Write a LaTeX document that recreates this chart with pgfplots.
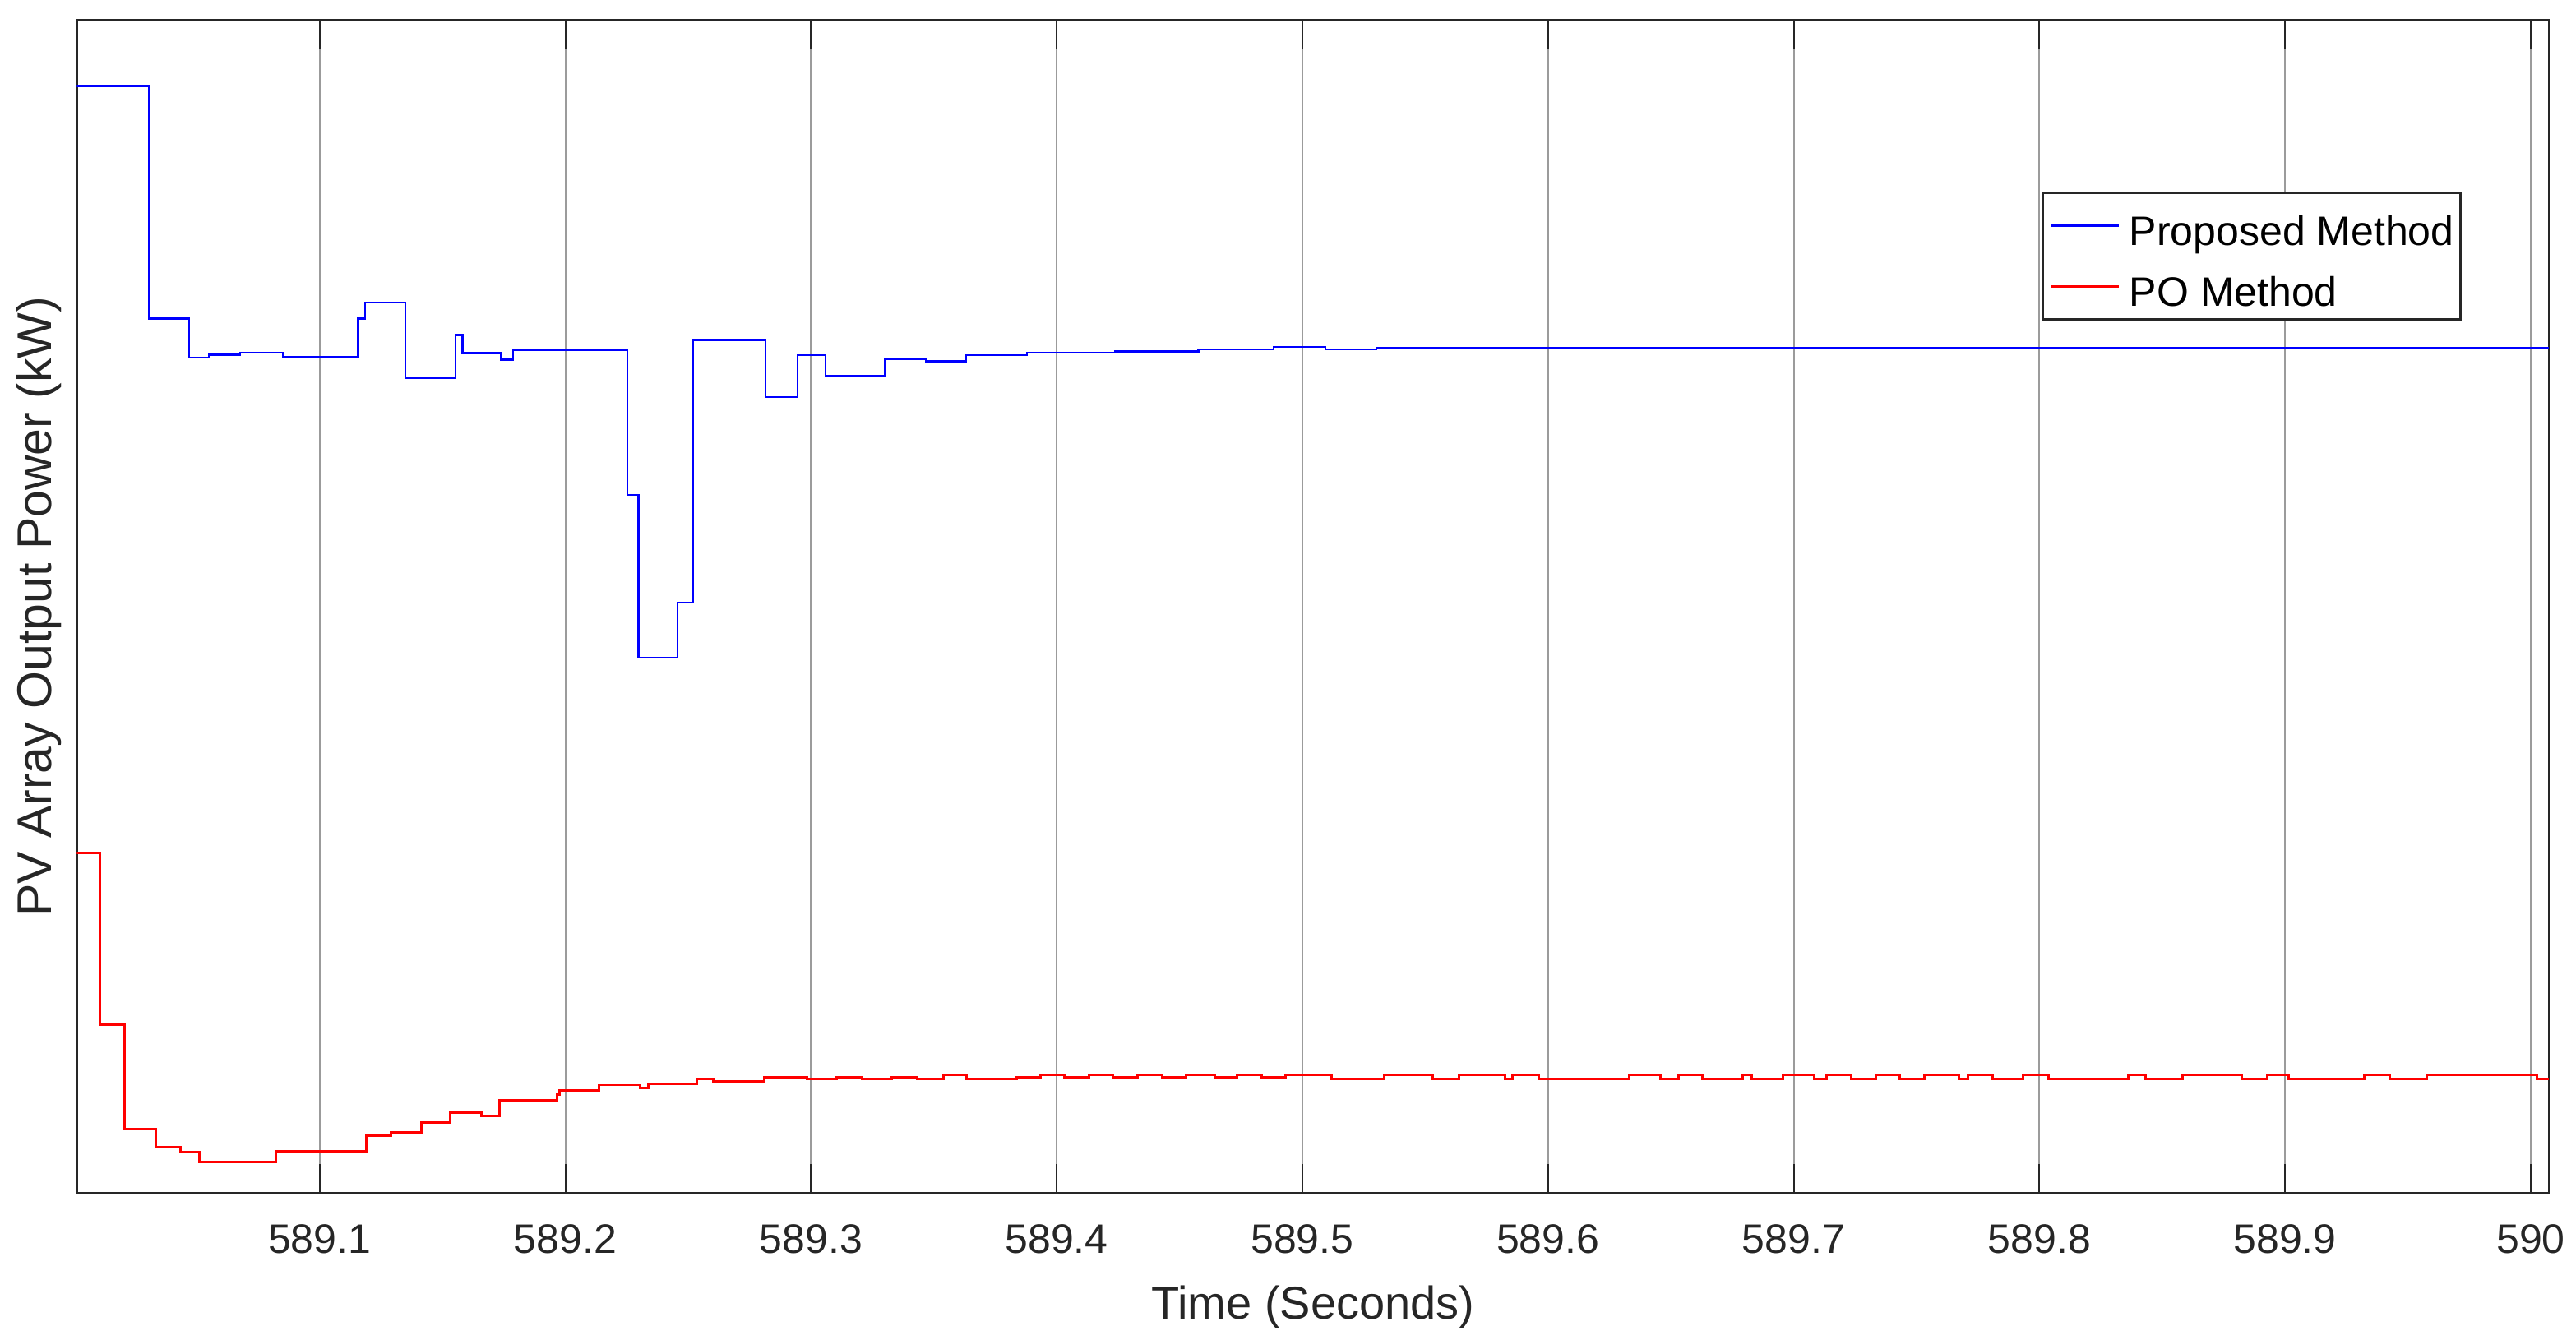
\documentclass[border=0pt]{standalone}
\usepackage{fontspec}
\setmainfont{Liberation Sans}
\usepackage{pgfplots}
\pgfplotsset{compat=1.18}
\definecolor{axgray}{RGB}{38,38,38}
\definecolor{gridgray}{RGB}{155,155,155}
\definecolor{pblue}{RGB}{0,0,255}
\definecolor{pred}{RGB}{255,0,0}

\begin{document}
\begin{tikzpicture}
% x = time - 589 s (kept as offset for numeric precision); y in arbitrary power units
\begin{axis}[
    scale only axis,
    width=601.4pt, height=285.4pt,
    xmin=0.0012, xmax=1.0074,
    ymin=0, ymax=1427,
    xtick={0.1,0.2,0.3,0.4,0.5,0.6,0.7,0.8,0.9,1.0},
    xticklabels={589.1,589.2,589.3,589.4,589.5,589.6,589.7,589.8,589.9,590},
    ytick=\empty,
    tick align=inside,
    major tick length=7pt,
    every tick/.style={draw=axgray, line width=0.4pt},
    xmajorgrids,
    grid style={draw=gridgray, line width=0.4pt},
    axis line style={draw=axgray, line width=0.5pt},
    /pgf/number format/assume math mode=true,
    xticklabel style={font=\fontsize{10}{12}\selectfont, text=axgray, anchor=center, yshift=-11.2pt, inner sep=0pt},
    xlabel={Time (Seconds)},
    ylabel={PV Array Output Power (kW)},
    xlabel style={font=\fontsize{11.2}{13}\selectfont, text=axgray, at={(axis description cs:0.5,0)}, anchor=center, yshift=-27.8pt, inner sep=0pt},
    ylabel style={font=\fontsize{11.8}{14}\selectfont, text=axgray, at={(axis description cs:0,0.5)}, anchor=center, yshift=9.3pt, inner sep=0pt},
    legend cell align=left,
    legend image code/.code={\draw[#1] (0pt,0pt) -- (16.6pt,0pt);},
    legend style={at={(rel axis cs:0.795,0.8538)}, anchor=north west,
        draw=axgray, line width=0.5pt, fill=white,
        inner xsep=1.6pt, inner ysep=3.2pt, row sep=5pt,
        font=\fontsize{10}{12}\selectfont,
        nodes={inner sep=0pt, text height=9.7pt, text depth=0pt, text=black},
        /tikz/every odd column/.style={column sep=2.2pt}},
]
\addplot[const plot, color=pblue, line width=0.45pt] coordinates {
    (0.0012,1347) (0.0306,1064) (0.0468,1016.6) (0.0550,1020) (0.0676,1022.3)
    (0.0852,1017) (0.1157,1064) (0.1185,1083.7) (0.1350,992) (0.1554,1044)
    (0.1582,1022) (0.1739,1014) (0.1788,1025.7) (0.2253,849.5) (0.2298,651)
    (0.2457,718.7) (0.2520,1037.8) (0.2816,968.3) (0.2945,1019.4) (0.3060,994.2)
    (0.3302,1014.3) (0.3467,1012) (0.3631,1019.4) (0.3880,1022.3) (0.4237,1024)
    (0.4577,1026.3) (0.4882,1029.2) (0.5093,1026.3) (0.5302,1028.3) (1.0074,1028.3)
};
\addlegendentry{Proposed Method}
\addplot[const plot, color=pred, line width=0.6pt] coordinates {
    (0.0012,413.4) (0.0106,204.9) (0.0205,78.2) (0.0334,55.9) (0.0435,49.4)
    (0.0510,37.3) (0.0822,51.2) (0.1190,69.4) (0.1291,74.0) (0.1413,85.7)
    (0.1533,97.3) (0.1660,94.1) (0.1732,113.2) (0.1967,119.7) (0.1976,124.8)
    (0.2136,131.3) (0.2305,128.1) (0.2337,133.2) (0.2534,138.3) (0.2603,136.0)
    (0.2811,140.6) (0.2985,139.2) (0.3104,140.6) (0.3209,138.8) (0.3327,140.6)
    (0.3432,138.8) (0.3538,143.4) (0.3632,138.8) (0.3836,140.6) (0.3936,143.4)
    (0.4030,140.6) (0.4131,143.4) (0.4230,140.6) (0.4330,143.4) (0.4429,140.6)
    (0.4528,143.4) (0.4645,140.6) (0.4734,143.4) (0.4835,140.6) (0.4933,143.4)
    (0.5119,138.8) (0.5332,143.4) (0.5532,138.8) (0.5637,143.4) (0.5825,138.8)
    (0.5855,143.4) (0.5961,138.8) (0.6329,143.4) (0.6458,138.8) (0.6533,143.4)
    (0.6630,138.8) (0.6792,143.4) (0.6829,138.8) (0.6957,143.4) (0.7085,138.8)
    (0.7133,143.4) (0.7235,138.8) (0.7334,143.4) (0.7433,138.8) (0.7532,143.4)
    (0.7674,138.8) (0.7708,143.4) (0.7810,138.8) (0.7935,143.4) (0.8037,138.8)
    (0.8363,143.4) (0.8433,138.8) (0.8583,143.4) (0.8824,138.8) (0.8926,143.4)
    (0.9015,138.8) (0.9324,143.4) (0.9426,138.8) (0.9578,143.4) (1.0025,138.8)
    (1.0074,138.8)
};
\addlegendentry{PO Method}
\end{axis}
% page margins around the axis box
\path (current axis.south west) ++(-18.7pt,-35.7pt);
\path (current axis.north east) ++(6.6pt,4.9pt);
\end{tikzpicture}
\end{document}
